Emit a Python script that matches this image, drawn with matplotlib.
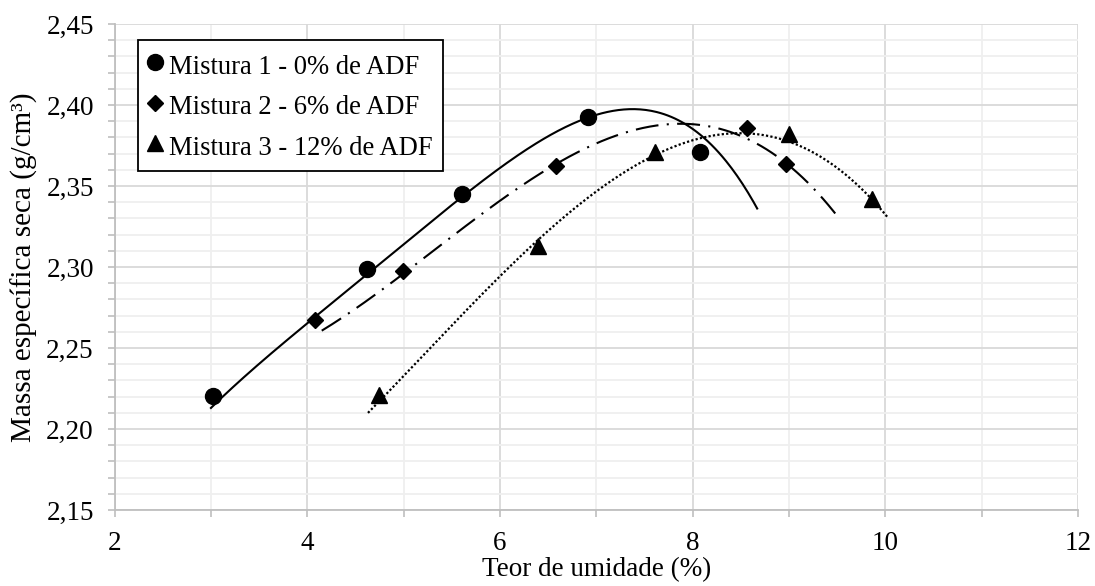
import numpy as np
import matplotlib
matplotlib.use("Agg")
import matplotlib.pyplot as plt
from matplotlib.ticker import MultipleLocator, FuncFormatter

# Compaction test results: moisture content (%) vs dry density (g/cm³)
labels = ["Mistura 1 - 0% de ADF", "Mistura 2 - 6% de ADF", "Mistura 3 - 12% de ADF"]

umidade_m1 = [3.02, 4.62, 5.61, 6.91, 8.08]
massa_m1 = [2.2205, 2.2988, 2.3450, 2.3926, 2.3712]

umidade_m2 = [4.08, 4.99, 6.58, 8.56, 8.97]
massa_m2 = [2.2675, 2.2978, 2.3625, 2.3858, 2.3638]

umidade_m3 = [4.74, 6.39, 7.61, 9.00, 9.86]
massa_m3 = [2.2210, 2.3130, 2.3710, 2.3820, 2.3420]

# Compaction curves (points along each fitted curve)
curva_x_m1 = [3.00, 4.08, 4.62, 5.69, 6.00, 6.38, 6.91, 7.36, 7.76, 8.07, 8.28, 8.48, 8.67]
curva_y_m1 = [2.2131, 2.2673, 2.2988, 2.3455, 2.3599, 2.3764, 2.3924, 2.4000, 2.3949,
              2.3797, 2.3681, 2.3537, 2.3383]

curva_x_m2 = [4.15, 4.99, 5.69, 6.00, 6.58, 7.14, 7.76, 8.07, 8.41, 8.76, 8.97, 9.21, 9.48]
curva_y_m2 = [2.2601, 2.2975, 2.3270, 2.3393, 2.3625, 2.3804, 2.3891, 2.3891, 2.3835,
              2.3712, 2.3636, 2.3496, 2.3348]

curva_x_m3 = [4.63, 5.69, 5.98, 6.72, 7.14, 7.61, 8.04, 8.38, 8.56, 8.94, 9.39, 9.73, 10.03]
curva_y_m3 = [2.2101, 2.2755, 2.2920, 2.3352, 2.3537, 2.3681, 2.3773, 2.3825, 2.3825,
              2.3794, 2.3660, 2.3496, 2.3300]

series = [(umidade_m1, massa_m1), (umidade_m2, massa_m2), (umidade_m3, massa_m3)]
curves = [(curva_x_m1, curva_y_m1), (curva_x_m2, curva_y_m2), (curva_x_m3, curva_y_m3)]
markers = ["o", "D", "^"]
marker_sizes = [11.5, 8.5, 12]

plt.rcParams["font.family"] = ["Liberation Serif", "DejaVu Serif"]

fig = plt.figure(figsize=(10.95, 5.86), dpi=100)
ax = fig.add_axes([114.6 / 1095, 76 / 586, (1078 - 114.6) / 1095, 486 / 586])

ax.set_xlim(2, 12)
ax.set_ylim(2.15, 2.45)
ax.xaxis.set_major_locator(MultipleLocator(2))
ax.xaxis.set_minor_locator(MultipleLocator(1))
ax.yaxis.set_major_locator(MultipleLocator(0.05))
ax.yaxis.set_minor_locator(MultipleLocator(0.01))

ax.grid(which="major", color="#d9d9d9", linewidth=1.3, zorder=0)
ax.grid(which="minor", color="#efefef", linewidth=1.3, zorder=0)
ax.set_axisbelow(True)

for side in ("top", "right"):
    ax.spines[side].set_visible(False)
for side in ("left", "bottom"):
    ax.spines[side].set_color("#bfbfbf")
    ax.spines[side].set_linewidth(1.3)

ax.tick_params(which="both", direction="out", length=5, width=1.2, color="#bfbfbf",
               labelsize=19.5, labelcolor="black")
ax.tick_params(axis="x", which="major", pad=10)
ax.tick_params(axis="y", which="major", pad=10)

ax.xaxis.set_major_formatter(FuncFormatter(lambda v, p: f"{v:.0f}"))
ax.yaxis.set_major_formatter(FuncFormatter(lambda v, p: f"{v:.2f}".replace(".", ",")))

# Smooth compaction curves
line_styles = [
    dict(linestyle="-", linewidth=1.5),
    dict(linestyle=(0, (11, 4, 1, 4)), linewidth=1.5),
    dict(linestyle=(0, (1, 1)), linewidth=1.6),
]
for (cx, cy), st in zip(curves, line_styles):
    coef = np.polyfit(cx, cy, 4)
    xx = np.linspace(cx[0], cx[-1], 300)
    ax.plot(xx, np.polyval(coef, xx), color="black", zorder=3, **st)

handles = []
for (xs, ys), mk, ms, lab in zip(series, markers, marker_sizes, labels):
    h, = ax.plot(xs, ys, linestyle="none", marker=mk, markersize=ms,
                 color="black", zorder=4, label=lab, clip_on=False)
    handles.append(h)

leg = ax.legend(handles=handles, loc="upper left", bbox_to_anchor=(0.024, 0.967),
                borderaxespad=0, fontsize=19.2, frameon=True, fancybox=False,
                handlelength=0.5, handleheight=1.3, handletextpad=0.29,
                labelspacing=0.42, borderpad=0.38, markerscale=1.0)
leg.get_frame().set_edgecolor("black")
leg.get_frame().set_linewidth(1.3)
leg.get_frame().set_facecolor("white")
leg.get_frame().set_alpha(1)

ax.set_xlabel("Teor de umidade (%)", fontsize=19.5, labelpad=1)
ax.set_ylabel("Massa específica seca (g/cm³)", fontsize=21, labelpad=6)

fig.savefig("out.png", dpi=100)
